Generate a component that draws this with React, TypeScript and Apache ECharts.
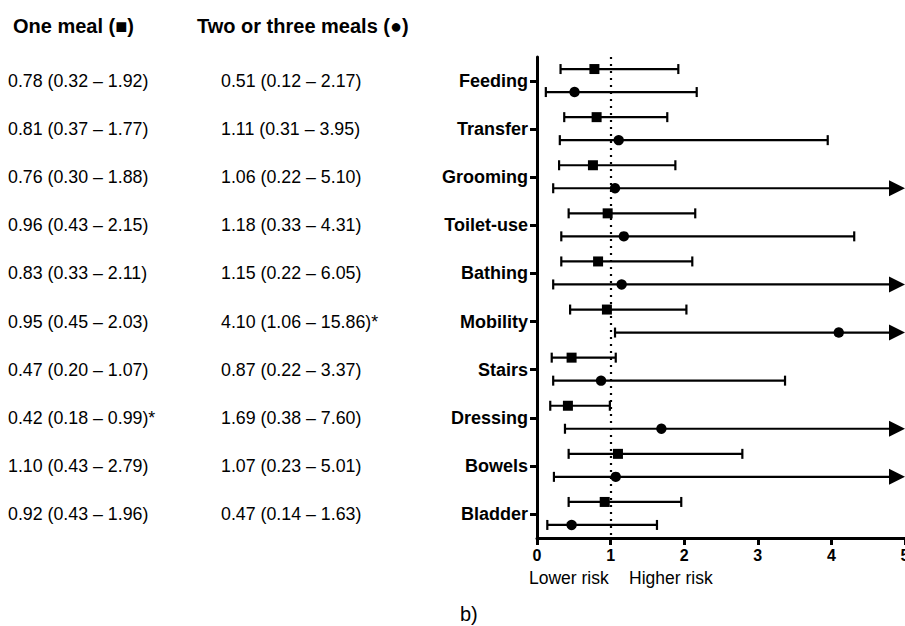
import React, { useEffect, useRef } from "react";
import * as echarts from "echarts";

const categories = ["Feeding", "Transfer", "Grooming", "Toilet-use", "Bathing", "Mobility", "Stairs", "Dressing", "Bowels", "Bladder"];
// One meal (square)
const oneEst = [0.78, 0.81, 0.76, 0.96, 0.83, 0.95, 0.47, 0.42, 1.10, 0.92];
const oneLo = [0.32, 0.37, 0.30, 0.43, 0.33, 0.45, 0.20, 0.18, 0.43, 0.43];
const oneHi = [1.92, 1.77, 1.88, 2.15, 2.11, 2.03, 1.07, 0.99, 2.79, 1.96];
const oneSig = [false, false, false, false, false, false, false, true, false, false];
// Two or three meals (circle)
const twoEst = [0.51, 1.11, 1.06, 1.18, 1.15, 4.10, 0.87, 1.69, 1.07, 0.47];
const twoLo = [0.12, 0.31, 0.22, 0.33, 0.22, 1.06, 0.22, 0.38, 0.23, 0.14];
const twoHi = [2.17, 3.95, 5.10, 4.31, 6.05, 15.86, 3.37, 7.60, 5.01, 1.63];
const twoSig = [false, false, false, false, false, true, false, false, false, false];
const xTicks = [0, 1, 2, 3, 4, 5];
const X_MAX = 5;

const fmt = (e: number, l: number, h: number, s: boolean) =>
  `${e.toFixed(2)} (${l.toFixed(2)} – ${h.toFixed(2)})${s ? "*" : ""}`;
const oneText = categories.map((_, i) => fmt(oneEst[i], oneLo[i], oneHi[i], oneSig[i]));
const twoText = categories.map((_, i) => fmt(twoEst[i], twoLo[i], twoHi[i], twoSig[i]));

const FONT = "'Liberation Sans', Arial, sans-serif";

export default function App() {
  const ref = useRef<HTMLDivElement>(null);
  useEffect(() => {
    if (!ref.current) return;
    const chart = echarts.init(ref.current, undefined, { renderer: "svg" });
    const data: number[][] = [];
    categories.forEach((_, i) => {
      data.push([oneEst[i], oneLo[i], oneHi[i], i, 0]);
      data.push([twoEst[i], twoLo[i], twoHi[i], i, 1]);
    });
    const renderItem = (params: any, api: any) => {
      const est = api.value(0), lo = api.value(1), hi = api.value(2), cat = api.value(3), g = api.value(4);
      const yc = api.coord([0, cat])[1] + (g === 0 ? -12 : 11);
      const xLo = api.coord([lo, cat])[0];
      const over = hi > X_MAX;
      const xHi = api.coord([Math.min(hi, X_MAX), cat])[0];
      const xEst = api.coord([est, cat])[0];
      const st = { stroke: "#000", lineWidth: 2.2 };
      const children: any[] = [
        { type: "line", shape: { x1: xLo, y1: yc, x2: over ? xHi - 12 : xHi, y2: yc }, style: st },
        { type: "line", shape: { x1: xLo, y1: yc - 5, x2: xLo, y2: yc + 5 }, style: st },
      ];
      if (over) {
        children.push({ type: "polygon", shape: { points: [[xHi - 16, yc - 8], [xHi, yc], [xHi - 16, yc + 8]] }, style: { fill: "#000" } });
      } else {
        children.push({ type: "line", shape: { x1: xHi, y1: yc - 5, x2: xHi, y2: yc + 5 }, style: st });
      }
      if (g === 0) {
        children.push({ type: "rect", shape: { x: xEst - 5, y: yc - 5, width: 10, height: 10 }, style: { fill: "#000" } });
      } else {
        children.push({ type: "circle", shape: { cx: xEst, cy: yc, r: 5.2 }, style: { fill: "#000" } });
      }
      return { type: "group", children };
    };
    const textAxis = (offset: number, texts: string[]) => ({
      type: "category",
      data: categories,
      inverse: true,
      position: "left",
      offset,
      axisLine: { show: false },
      axisTick: { show: false },
      axisLabel: {
        formatter: (_v: string, i: number) => texts[i],
        align: "left",
        margin: 0,
        fontSize: 17.8,
        fontFamily: FONT,
        color: "#000",
      },
      splitLine: { show: false },
    });
    chart.setOption({
      animation: false,
      grid: { left: 537, right: 0, top: 57, bottom: 88, containLabel: false, outerBoundsMode: "none" },
      xAxis: {
        type: "value",
        min: xTicks[0],
        max: xTicks[xTicks.length - 1],
        interval: 1,
        axisLine: { show: true, lineStyle: { color: "#000", width: 3 } },
        axisTick: { show: true, length: 7, lineStyle: { color: "#000", width: 3 } },
        axisLabel: { fontSize: 16, fontWeight: "bold", fontFamily: FONT, color: "#000", margin: 9 },
        splitLine: { show: false },
      },
      yAxis: [
        {
          type: "category",
          data: categories,
          inverse: true,
          axisLine: { show: true, lineStyle: { color: "#000", width: 3 } },
          axisTick: { show: true, alignWithLabel: true, length: 7, lineStyle: { color: "#000", width: 3 } },
          axisLabel: { fontSize: 18, fontWeight: "bold", fontFamily: FONT, color: "#000", margin: 9 },
          splitLine: { show: false },
        },
        textAxis(529, oneText),
        textAxis(316, twoText),
      ],
      series: [
        {
          type: "custom",
          renderItem,
          data,
          encode: { x: [0, 1, 2], y: 3 },
          clip: false,
          z: 3,
        },
        {
          type: "line",
          data: [],
          markLine: {
            silent: true,
            symbol: "none",
            label: { show: false },
            lineStyle: { color: "#000", type: [2, 5], width: 2.2 },
            data: [{ xAxis: 1 }],
          },
        },
      ],
      graphic: [
        { type: "text", left: 13, top: 16, style: { text: "One meal (■)", font: `bold 20px ${FONT}`, fill: "#000" } },
        { type: "text", left: 197, top: 16, style: { text: "Two or three meals (●)", font: `bold 20px ${FONT}`, fill: "#000" } },
        { type: "text", left: 529, top: 569, style: { text: "Lower risk", font: `17.5px ${FONT}`, fill: "#000" } },
        { type: "text", left: 629, top: 569, style: { text: "Higher risk", font: `17.5px ${FONT}`, fill: "#000" } },
        { type: "text", left: 460, top: 604, style: { text: "b)", font: `20px ${FONT}`, fill: "#000" } },
      ],
    });
    return () => chart.dispose();
  }, []);
  return <div ref={ref} style={{ position: "fixed", left: 0, top: 0, width: 905, height: 626, background: "#fff" }} />;
}
